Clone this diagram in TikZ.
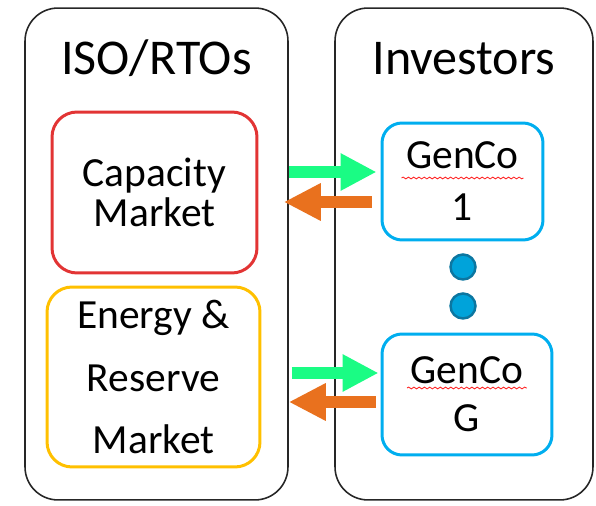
\documentclass[tikz,border=0pt]{standalone}
\usepackage{fontspec}
\setmainfont{Carlito}
\usetikzlibrary{arrows.meta,decorations.pathmorphing}
\definecolor{capred}{RGB}{226,52,52}
\definecolor{enyellow}{RGB}{255,192,0}
\definecolor{genblue}{RGB}{0,174,239}
\definecolor{dotblue}{RGB}{0,163,218}
\definecolor{dotedge}{RGB}{12,118,160}
\definecolor{bidgreen}{RGB}{26,252,132}
\definecolor{payorange}{RGB}{233,113,30}

\begin{document}
\begin{tikzpicture}[x=0.02cm,y=-0.02cm,
    bigbox/.style={draw=black!85,line width=0.9pt,rounded corners=0.66cm,inner sep=0pt},
    mktbox/.style={draw,line width=1.7pt,rounded corners=0.5cm,inner sep=0pt,align=center},
    genbox/.style={draw=genblue,line width=1.7pt,rounded corners=0.4cm,inner sep=0pt,align=center},
    title/.style={anchor=base,font=\fontsize{28.5}{34}\selectfont},
    dot/.style={circle,fill=dotblue,draw=dotedge,line width=1.4pt,minimum size=0.5cm,inner sep=0pt},
    bidarr/.style={draw=bidgreen,line width=0.24cm,-{Triangle[length=0.72cm,width=0.7cm]}},
    payarr/.style={draw=payorange,line width=0.24cm,-{Triangle[length=0.74cm,width=0.7cm]}},
    squiggle/.style={draw=red!85,line width=0.5pt,decorate,decoration={snake,amplitude=0.5pt,segment length=3pt}}]
  \useasboundingbox (0,0) rectangle (596,506);

  \node[bigbox,minimum width=5.26cm,minimum height=9.84cm] (iso) at (156.5,254) {};
  \node[bigbox,minimum width=5.16cm,minimum height=9.84cm] (inv) at (464,254) {};
  \node[title] (isotitle) at (156.5,75) {ISO/RTOs};
  \node[title] (invtitle) at (464,75) {Investors};

  \node[mktbox,draw=capred,minimum width=4.1cm,minimum height=3.22cm,
        font=\fontsize{23.6}{22.8}\selectfont] (cap) at (154.5,192.5) {Capacity\\Market};
  \node[mktbox,draw=enyellow,minimum width=4.26cm,minimum height=3.6cm,
        font=\fontsize{23.6}{35.3}\selectfont] (ene) at (153.5,377) {Energy \&\\Reserve\\Market};

  \node[genbox,minimum width=3.22cm,minimum height=2.34cm,
        font=\fontsize{23.6}{29.6}\selectfont] (gen1) at (462.5,181.5) {GenCo\\1};
  \node[genbox,minimum width=3.4cm,minimum height=2.42cm,
        font=\fontsize{23.6}{27.3}\selectfont] (gen2) at (467,394.5) {GenCo\\G};
  \draw[squiggle] ([xshift=-1.22cm,yshift=0.07cm]gen1.center) -- ([xshift=1.22cm,yshift=0.07cm]gen1.center);
  \draw[squiggle] ([xshift=-1.2cm,yshift=0.13cm]gen2.center) -- ([xshift=1.2cm,yshift=0.13cm]gen2.center);

  \node[dot] (dot1) at (463,267) {};
  \node[dot] (dot2) at (463,306) {};

  \coordinate (g1in) at ([yshift=0.19cm]gen1.west);
  \coordinate (g1out) at ([yshift=-0.41cm]gen1.west);
  \coordinate (g2in) at ([yshift=0.43cm]gen2.west);
  \coordinate (g2out) at ([yshift=-0.15cm]gen2.west);
  \draw[bidarr,shorten >=0.08cm] (iso.east |- g1in) -- (g1in);
  \draw[payarr,shorten <=0.18cm,shorten >=-0.1cm] (g1out) -- (iso.east |- g1out);
  \draw[bidarr,shorten <=0.06cm,shorten >=0.04cm] (iso.east |- g2in) -- (g2in);
  \draw[payarr,shorten <=0.1cm] (g2out) -- (iso.east |- g2out);
\end{tikzpicture}
\end{document}
